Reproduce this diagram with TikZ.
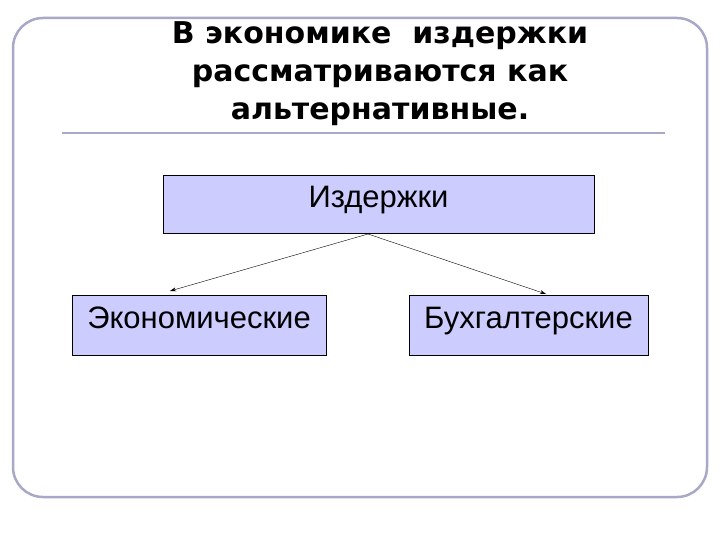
\documentclass[tikz,border=0pt]{standalone}
\usepackage{fontspec}
\setmainfont{Liberation Sans}
\newfontfamily\titlefont{DejaVu Sans}
\definecolor{frame}{HTML}{A8A8C8}
\definecolor{boxfill}{HTML}{CCCCFF}
\usetikzlibrary{arrows.meta}
\tikzset{
  box/.style={draw=black, fill=boxfill, inner sep=0pt, text height=0.72em, text depth=0.05em, font=\fontsize{31}{36}\selectfont},
  conn/.style={-{Stealth[length=6pt,width=4pt]}, thin}
}
\begin{document}
\begin{tikzpicture}[x=1pt,y=-1pt]
\useasboundingbox (0,0) rectangle (720,540);
\draw[frame, line width=2.5pt, rounded corners=30pt] (13,18) rectangle (707,497);
\node[align=center, font=\titlefont\bfseries\fontsize{30}{38}\selectfont] (title) at (380,74)
  {В экономике \ издержки\\рассматриваются как\\альтернативные.};
\draw[frame, line width=2pt] (62,133) -- (665,133);
\node[box, minimum width=431pt, minimum height=58pt] (top) at (378.5,204) {Издержки};
\node[box, minimum width=254pt, minimum height=60pt] (left) at (199,325) {Экономические};
\node[box, minimum width=239pt, minimum height=60pt] (right) at (528.5,325) {Бухгалтерские};
\coordinate (src) at (368,234);
\draw[conn] (src) -- (170,291);
\draw[conn] (src) -- (546,294);
\end{tikzpicture}
\end{document}
